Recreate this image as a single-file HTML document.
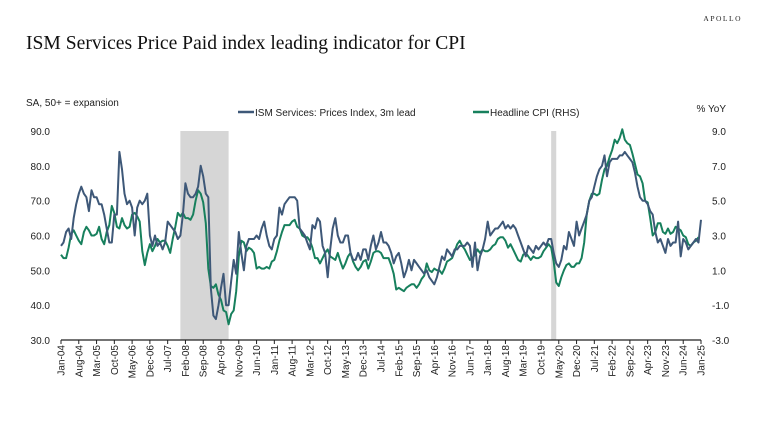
<!DOCTYPE html>
<html><head><meta charset="utf-8"><style>
body{margin:0;background:#fff;width:767px;height:432px;overflow:hidden;font-family:"Liberation Sans",sans-serif}
</style></head><body>
<svg id="chart" width="767" height="432" xmlns="http://www.w3.org/2000/svg">
<text x="742" y="21" font-family="Liberation Serif,serif" font-size="7.5" letter-spacing="1.5" text-anchor="end" fill="#222">APOLLO</text>
<text x="26" y="49" font-family="Liberation Serif,serif" font-size="19.6" fill="#111">ISM Services Price Paid index leading indicator for CPI</text>
<text x="26" y="106" font-size="10" fill="#222">SA, 50+ = expansion</text>
<text x="726" y="112" font-size="10" text-anchor="end" fill="#222">% YoY</text>
<g><line x1="238" y1="112" x2="254" y2="112" stroke="#3e5878" stroke-width="2.5"/><text x="255" y="116" font-size="10" fill="#222">ISM Services: Prices Index, 3m lead</text></g>
<g><line x1="473" y1="112" x2="489" y2="112" stroke="#17805d" stroke-width="2.5"/><text x="490" y="116" font-size="10" fill="#222">Headline CPI (RHS)</text></g>
<g id="g"></g>
</svg>
<script>
const ismValues=[57,58,61,62,59,65,69,72,74,72,71,67,
73,71,71,69,69,66,62,58,58,66,66,84,
79,72,69,70,68,60,68,70,69,70,72,60,
57,60,57,58,56,58,64,63,62,61,59,60,
66,75,72,71,71,72,74,80,77,72,71,45,
37,36,40,45,49,40,40,47,53,49,61,55,
50,57,59,59,59,60,59,62,64,60,57,56,
59,60,68,66,69,70,71,71,71,70,62,61,
60,58,56,63,62,65,64,57,55,48,56,62,
65,60,58,58,60,60,55,53,53,55,53,56,
56,53,57,60,56,58,61,58,58,57,55,52,
54,55,52,48,50,53,50,53,52,51,50,49,
50,48,47,46,48,51,54,53,56,55,54,56,
56,57,57,57,58,57,51,58,50,54,56,59,
64,60,61,62,62,63,64,62,63,62,63,62,
60,58,56,54,57,56,55,57,56,57,58,57,
59,59,55,52,51,53,57,56,61,59,57,64,
60,62,64,66,70,71,74,77,79,80,83,77,
81,82,82,82,83,83,84,83,82,81,78,74,
71,70,70,69,67,66,61,58,59,57,55,59,
57,58,58,64,54,59,58,56,57,58,59,58,64.5];
const cpiValues=[1.9,1.7,1.7,2.3,3.1,3.3,3.0,2.7,2.5,3.2,3.5,3.3,
3.0,3.0,3.1,3.5,2.8,2.5,3.2,3.6,4.7,4.3,3.5,3.4,
4.0,3.6,3.4,3.5,4.2,4.3,4.1,3.8,2.1,1.3,2.0,2.5,
2.1,2.4,2.8,2.6,2.7,2.7,2.4,2.0,2.8,3.5,4.3,4.1,
4.3,4.0,4.0,3.9,4.2,5.0,5.6,5.4,4.9,3.7,1.1,0.1,
0.0,0.2,-0.4,-0.7,-1.3,-1.4,-2.1,-1.5,-1.3,-0.2,1.8,2.7,
2.6,2.1,2.3,2.2,2.0,1.1,1.2,1.1,1.1,1.2,1.1,1.5,
1.6,2.1,2.7,3.2,3.6,3.6,3.6,3.8,3.9,3.5,3.4,3.0,
2.9,2.9,2.7,2.3,1.7,1.7,1.4,1.7,2.0,2.2,1.8,1.7,
1.6,2.0,1.5,1.1,1.4,1.8,2.0,1.5,1.2,1.0,1.2,1.5,
1.6,1.1,1.5,2.0,2.1,2.1,2.0,1.7,1.7,1.7,1.3,0.8,
-0.1,0.0,-0.1,-0.2,0.0,0.1,0.2,0.2,0.0,0.2,0.5,0.7,
1.4,1.0,0.9,1.1,1.0,1.0,0.8,1.1,1.5,1.6,1.7,2.1,
2.5,2.7,2.4,2.2,1.9,1.6,1.7,1.9,2.2,2.0,2.2,2.1,
2.1,2.2,2.4,2.5,2.8,2.9,2.9,2.7,2.3,2.5,2.2,1.9,
1.6,1.5,1.9,2.0,1.8,1.6,1.8,1.7,1.7,1.8,2.1,2.3,
2.5,2.3,1.5,0.3,0.1,0.6,1.0,1.3,1.4,1.2,1.2,1.4,
1.4,1.7,2.6,4.2,5.0,5.4,5.4,5.3,5.4,6.2,6.8,7.0,
7.5,7.9,8.5,8.3,8.6,9.1,8.5,8.3,8.2,7.7,7.1,6.5,
6.4,6.0,5.0,4.9,4.0,3.0,3.2,3.7,3.7,3.2,3.1,3.4,
3.1,3.2,3.5,3.4,3.3,3.0,2.9,2.5,2.4,2.6,2.7,2.9];
const leftTicks=[30,40,50,60,70,80,90];
const rightTicks=[-3,-1,1,3,5,7,9];
const recessions=[[47,66],[193,195]];
const monthNames=["Jan","Feb","Mar","Apr","May","Jun","Jul","Aug","Sep","Oct","Nov","Dec"];
const NS="http://www.w3.org/2000/svg";
const X0=61,X1=701,NM=252,YT=131,YB=340;
const xs=m=>X0+m*(X1-X0)/NM;
const yl=v=>YB-(v-30)/60*(YB-YT);
const yr=v=>YB-(v+3)/12*(YB-YT);
const g=document.getElementById('g');
function mk(t,a){const e=document.createElementNS(NS,t);for(const k in a)e.setAttribute(k,a[k]);g.appendChild(e);return e;}
recessions.forEach(r=>{const e=mk('rect',{x:xs(r[0]),y:YT,width:xs(r[1])-xs(r[0]),height:YB-YT,fill:'#d6d6d6'});

});
leftTicks.forEach(v=>{const t=mk('text',{x:50,y:yl(v)+4,'font-size':10,'text-anchor':'end',fill:'#222'});t.textContent=v.toFixed(1);

});
rightTicks.forEach(v=>{const t=mk('text',{x:712,y:yr(v)+4,'font-size':10,fill:'#222'});t.textContent=v.toFixed(1);

});
const ax=mk('line',{x1:X0,y1:YB,x2:X1,y2:YB,stroke:'#222','stroke-width':1.2});


for(let m=0;m<=NM;m+=7){
 mk('line',{x1:xs(m),y1:YB,x2:xs(m),y2:YB+4,stroke:'#222'});
 const yr2=String(4+Math.floor(m/12)).padStart(2,'0');
 const t=mk('text',{transform:`translate(${xs(m)+3.5},${YB+5}) rotate(-90)`,'font-size':10,'text-anchor':'end',fill:'#222'});
 t.textContent=monthNames[m%12]+'-'+yr2;
 
 
}
const cp=mk('path',{d:cpiValues.map((v,i)=>(i?'L':'M')+xs(i).toFixed(1)+' '+yr(v).toFixed(1)).join(''),fill:'none',stroke:'#17805d','stroke-width':2,'stroke-linejoin':'round'});


const ip=mk('path',{d:ismValues.map((v,i)=>(i?'L':'M')+xs(i).toFixed(1)+' '+yl(v).toFixed(1)).join(''),fill:'none',stroke:'#3e5878','stroke-width':2,'stroke-linejoin':'round'});


</script>
</body></html>
